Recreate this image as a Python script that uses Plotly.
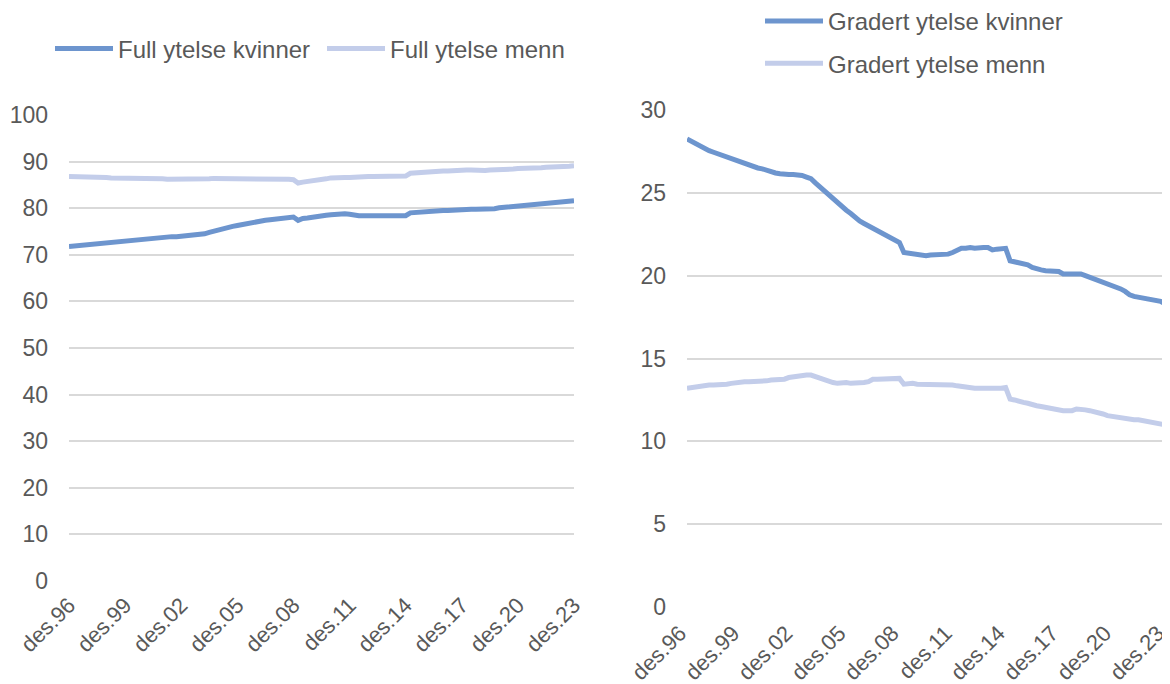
import plotly.graph_objects as go

months = ["mar", "jun", "sep", "des"]
periods = ["des.96"] + [f"{m}.{str(y)[2:]}" for y in range(1997, 2024) for m in months]
tick_labels = ["des.96", "des.99", "des.02", "des.05", "des.08", "des.11", "des.14", "des.17", "des.20", "des.23"]

full_kvinner = [71.8,
    71.9, 72.0, 72.1, 72.3,
    72.4, 72.5, 72.6, 72.7,
    72.8, 72.9, 73.0, 73.1,
    73.2, 73.3, 73.4, 73.5,
    73.5, 73.6, 73.7, 73.8,
    73.8, 73.9, 73.9, 74.0,
    74.0, 74.0, 74.1, 74.3,
    74.5, 74.8, 75.1, 75.4,
    75.7, 75.9, 76.1, 76.3,
    76.5, 76.8, 77.0, 77.1,
    77.3, 77.4, 77.5, 77.6,
    77.7, 77.8, 77.9, 78.1,
    77.4, 77.8, 77.9, 78.1,
    78.2, 78.4, 78.5, 78.6,
    78.7, 78.8, 78.8, 78.7,
    78.5, 78.4, 78.4, 78.4,
    78.4, 78.4, 78.4, 78.4,
    78.5, 78.4, 78.4, 78.4,
    79.0, 79.1, 79.2, 79.2,
    79.3, 79.3, 79.4, 79.5,
    79.5, 79.6, 79.6, 79.7,
    79.7, 79.8, 79.8, 79.8,
    79.8, 79.9, 79.9, 80.1,
    80.2, 80.3, 80.4, 80.5,
    80.6, 80.7, 80.8, 80.9,
    81.0, 81.1, 81.2, 81.2,
    81.3, 81.4, 81.5, 81.6]

full_menn = [86.8,
    86.8, 86.7, 86.7, 86.7,
    86.6, 86.6, 86.6, 86.6,
    86.5, 86.5, 86.5, 86.5,
    86.4, 86.4, 86.4, 86.4,
    86.4, 86.3, 86.3, 86.3,
    86.2, 86.2, 86.1, 86.1,
    86.1, 86.1, 86.1, 86.2,
    86.3, 86.3, 86.4, 86.4,
    86.4, 86.4, 86.4, 86.4,
    86.4, 86.4, 86.4, 86.4,
    86.4, 86.3, 86.3, 86.3,
    86.3, 86.2, 86.2, 86.1,
    85.4, 85.6, 85.7, 85.8,
    85.9, 86.1, 86.3, 86.5,
    86.6, 86.6, 86.6, 86.6,
    86.7, 86.7, 86.7, 86.8,
    86.8, 86.8, 86.8, 86.9,
    86.9, 86.9, 86.9, 86.9,
    87.5, 87.6, 87.7, 87.8,
    87.8, 87.9, 87.9, 88.0,
    88.0, 88.1, 88.1, 88.2,
    88.2, 88.2, 88.1, 88.1,
    88.1, 88.2, 88.2, 88.3,
    88.3, 88.4, 88.4, 88.5,
    88.5, 88.6, 88.6, 88.7,
    88.7, 88.8, 88.8, 88.9,
    88.9, 89.0, 89.0, 89.1]

gradert_kvinner = [28.25,
    28.1, 27.95, 27.8, 27.65,
    27.55, 27.45, 27.35, 27.25,
    27.15, 27.05, 26.95, 26.85,
    26.75, 26.65, 26.6, 26.5,
    26.45, 26.35, 26.3, 26.2,
    26.15, 26.1, 26.1, 26.1,
    26.1, 26.05, 25.95, 25.85,
    25.6, 25.35, 25.1, 24.85,
    24.65, 24.4, 24.15, 23.95,
    23.75, 23.5, 23.3, 23.15,
    23.0, 22.85, 22.7, 22.55,
    22.45, 22.3, 22.15, 22.0,
    21.4, 21.35, 21.3, 21.25,
    21.2, 21.2, 21.25, 21.25,
    21.25, 21.3, 21.3, 21.4,
    21.55, 21.65, 21.65, 21.7,
    21.65, 21.7, 21.7, 21.7,
    21.55, 21.6, 21.65, 21.65,
    20.9, 20.85, 20.75, 20.7,
    20.65, 20.5, 20.4, 20.35,
    20.3, 20.3, 20.25, 20.25,
    20.1, 20.1, 20.1, 20.1,
    20.1, 20.0, 19.9, 19.8,
    19.75, 19.65, 19.55, 19.45,
    19.35, 19.2, 19.05, 18.85,
    18.75, 18.7, 18.65, 18.6,
    18.55, 18.5, 18.45, 18.3]

gradert_menn = [13.2,
    13.25, 13.3, 13.35, 13.35,
    13.4, 13.4, 13.4, 13.45,
    13.45, 13.5, 13.55, 13.55,
    13.6, 13.6, 13.6, 13.6,
    13.6, 13.65, 13.7, 13.7,
    13.7, 13.75, 13.85, 13.9,
    13.9, 13.95, 14.0, 14.0,
    13.9, 13.8, 13.7, 13.6,
    13.55, 13.5, 13.55, 13.55,
    13.5, 13.5, 13.5, 13.55,
    13.6, 13.75, 13.75, 13.75,
    13.75, 13.75, 13.8, 13.8,
    13.45, 13.5, 13.5, 13.45,
    13.45, 13.45, 13.45, 13.45,
    13.4, 13.4, 13.4, 13.4,
    13.35, 13.3, 13.3, 13.25,
    13.2, 13.2, 13.2, 13.2,
    13.15, 13.15, 13.2, 13.25,
    12.55, 12.5, 12.4, 12.35,
    12.3, 12.2, 12.15, 12.1,
    12.05, 12.0, 11.9, 11.9,
    11.85, 11.85, 11.85, 11.95,
    11.95, 11.9, 11.85, 11.8,
    11.75, 11.65, 11.55, 11.5,
    11.45, 11.4, 11.35, 11.35,
    11.3, 11.3, 11.25, 11.25,
    11.2, 11.15, 11.1, 11.0]

DARK = "#6D95CE"
LIGHT = "#C3CDEA"
TXT = "#595959"
GRID = "#D9D9D9"
FONT = "Liberation Sans, Arial, sans-serif"
OFF = 8  # page body margin
W, H = 1162, 676
ML, MR, MT, MB = 55, 0, 95, 62
PW, PH = W - ML - MR, H - MT - MB


def fx(px):
    return (px - OFF - ML) / PW


def fy(py):
    return (H - MB - (py - OFF)) / PH


fig = go.Figure()
fig.add_trace(go.Scatter(x=periods, y=full_kvinner, name="Full ytelse kvinner", mode="lines",
                         line=dict(color=DARK, width=5), xaxis="x", yaxis="y", legend="legend"))
fig.add_trace(go.Scatter(x=periods, y=full_menn, name="Full ytelse menn", mode="lines",
                         line=dict(color=LIGHT, width=5), xaxis="x", yaxis="y", legend="legend"))
fig.add_trace(go.Scatter(x=periods, y=gradert_kvinner, name="Gradert ytelse kvinner", mode="lines",
                         line=dict(color=DARK, width=5), xaxis="x2", yaxis="y2", legend="legend2",
                         legendgroup="a"))
fig.add_trace(go.Scatter(x=periods, y=gradert_menn, name="Gradert ytelse menn", mode="lines",
                         line=dict(color=LIGHT, width=5), xaxis="x2", yaxis="y2", legend="legend2",
                         legendgroup="b"))

xcommon = dict(type="category", categoryorder="array", categoryarray=periods,
               range=[0, len(periods) - 1], tickmode="array", tickvals=tick_labels, ticktext=tick_labels,
               tickangle=-45, showgrid=False, zeroline=False, showline=False, ticks="", automargin=False,
               tickfont=dict(family=FONT, size=22, color=TXT))
ycommon = dict(showgrid=True, gridcolor=GRID, gridwidth=1.5, zeroline=False, showline=False, ticks="",
               automargin=False, tickfont=dict(family=FONT, size=23, color=TXT), ticklabelstandoff=20)
LEGFONT = dict(family=FONT, size=24, color=TXT)

fig.update_layout(
    width=W, height=H,
    margin=dict(l=ML, r=MR, t=MT, b=MB, autoexpand=False),
    paper_bgcolor="white", plot_bgcolor="white",
    font=dict(family=FONT, size=23, color=TXT),
    xaxis=dict(domain=[fx(69), fx(574)], anchor="y", ticklabelstandoff=6, ticklabelshift=0, **xcommon),
    yaxis=dict(domain=[fy(581), fy(115)], anchor="x", range=[0, 100], dtick=10, **ycommon),
    xaxis2=dict(domain=[fx(687), fx(1165)], anchor="y2", ticklabelstandoff=8, ticklabelshift=-7, **xcommon),
    yaxis2=dict(domain=[fy(607), fy(110)], anchor="x2", range=[0, 30], dtick=5, **ycommon),
    legend=dict(orientation="h", x=fx(50), y=fy(49), xanchor="left", yanchor="middle",
                font=LEGFONT, bgcolor="rgba(0,0,0,0)",
                itemwidth=58, entrywidth=199, entrywidthmode="pixels"),
    legend2=dict(orientation="v", x=fx(760), y=fy(42.5), xanchor="left", yanchor="middle",
                 font=LEGFONT, bgcolor="rgba(0,0,0,0)",
                 itemwidth=58, tracegroupgap=8),
    showlegend=True,
)

fig.write_html("out.html")
